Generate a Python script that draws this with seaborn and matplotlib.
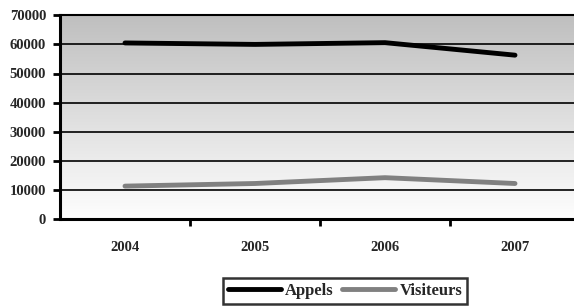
import numpy as np
import pandas as pd
import matplotlib
matplotlib.use("Agg")
import matplotlib.pyplot as plt
import seaborn as sns
from matplotlib.colors import LinearSegmentedColormap

years = ["2004", "2005", "2006", "2007"]
appels = [60500, 60000, 60600, 56300]
visiteurs = [11300, 12200, 14200, 12200]
series_names = ["Appels", "Visiteurs"]
yticks = [0, 10000, 20000, 30000, 40000, 50000, 60000, 70000]

df = pd.DataFrame({
    "year": list(range(len(years))) * 2,
    "value": appels + visiteurs,
    "series": [series_names[0]] * len(years) + [series_names[1]] * len(years),
})

sns.set_theme(style="white")
plt.rcParams['font.family'] = ['Liberation Serif', 'DejaVu Serif']

W, H = 574, 306
fig = plt.figure(figsize=(W / 100, H / 100), dpi=100)
ax = fig.add_axes([60 / W, 1 - 219 / H, 520 / W, (219 - 15.3) / H])

# gradient background
cmap = LinearSegmentedColormap.from_list("g", ["#fefefe", "#bfbfbf"])
grad = np.linspace(0, 1, 256).reshape(-1, 1)
ax.imshow(grad, cmap=cmap, aspect="auto", extent=[-0.5, 3.5, 0, 70000],
          origin="lower", zorder=0)

for yv in yticks[1:-1]:
    ax.axhline(yv, color="black", lw=1.2, zorder=1)

sns.lineplot(data=df, x="year", y="value", hue="series",
             palette=["#000000", "#808080"], linewidth=3.5, ax=ax,
             legend=True, zorder=3, solid_capstyle="round")

ax.set_xlim(-0.5, 3.5)
ax.set_ylim(0, 70000)
ax.set_xlabel("")
ax.set_ylabel("")
ax.set_xticks(range(len(years)))
ax.set_xticklabels(years, fontweight="bold", fontsize=10.5)
ax.set_xticks([0.5, 1.5, 2.5], minor=True)
ax.tick_params(axis="x", which="major", length=0, pad=16)
ax.tick_params(axis="x", which="minor", length=5, width=2, direction="out", color="black", bottom=True)
ax.set_yticks(yticks)
ax.set_yticklabels([str(v) for v in yticks], fontweight="bold", fontsize=10.5)
ax.tick_params(axis="y", length=5, width=2, direction="out", color="black", left=True, pad=5)

ax.spines["right"].set_visible(False)
ax.spines["top"].set_visible(True)
ax.spines["top"].set_linewidth(1.5)
ax.spines["top"].set_color("black")
ax.spines["left"].set_linewidth(2.2)
ax.spines["bottom"].set_linewidth(2.2)
ax.spines["left"].set_color("black")
ax.spines["bottom"].set_color("black")
ax.spines["left"].set_zorder(5)
ax.spines["bottom"].set_zorder(5)

leg = ax.legend(loc="center", bbox_to_anchor=(345 / W, 1 - 291 / H),
                bbox_transform=fig.transFigure, ncol=2, frameon=True,
                fancybox=False, prop={"weight": "bold", "size": 12},
                handlelength=3.2, handletextpad=0.25, columnspacing=0.5,
                borderpad=0.3)
leg.get_frame().set_edgecolor("black")
leg.get_frame().set_linewidth(1.8)
leg.get_frame().set_facecolor("white")

fig.savefig("out.png", dpi=100)
